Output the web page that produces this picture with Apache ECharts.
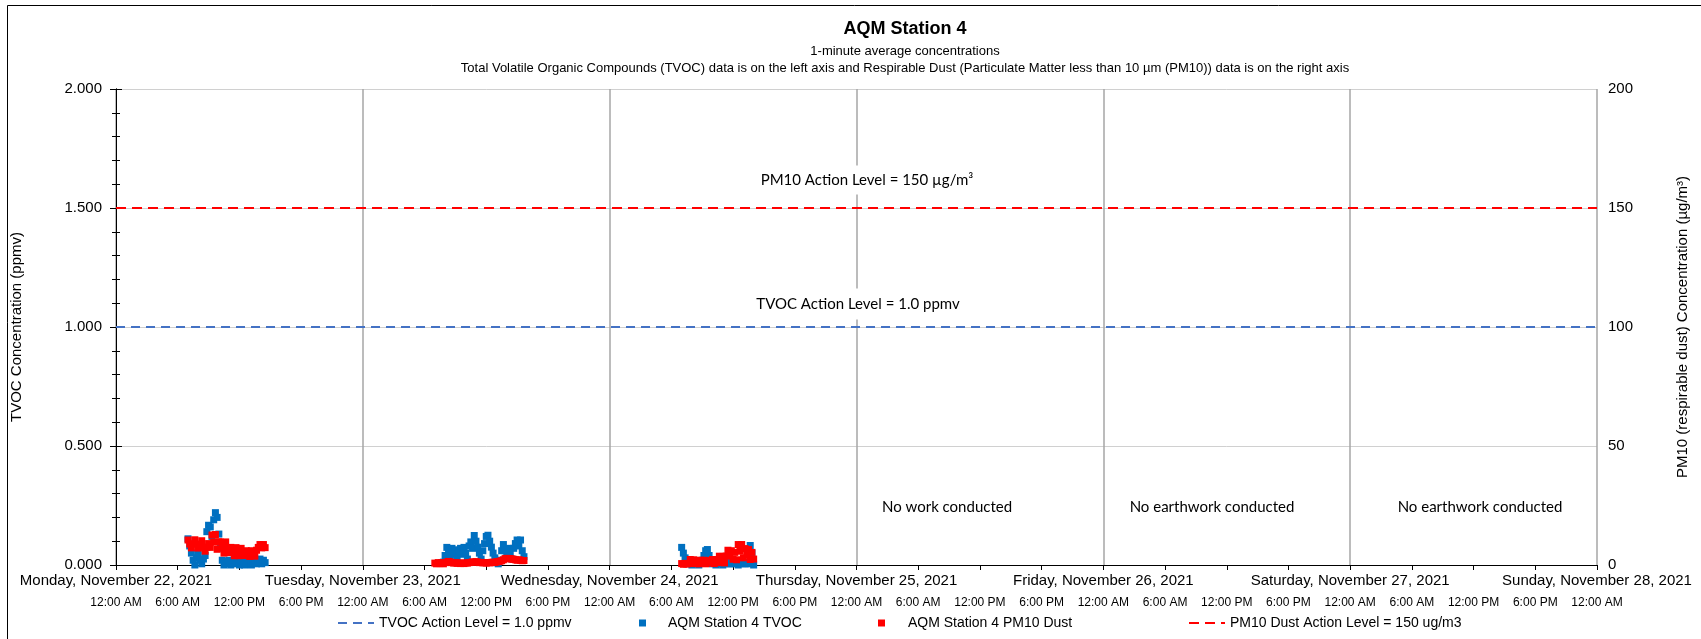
<!DOCTYPE html>
<html>
<head>
<meta charset="utf-8">
<script src="https://cdn.jsdelivr.net/npm/echarts@6/dist/echarts.min.js"></script>
<style>
  html, body { margin: 0; padding: 0; background: #fff; }
  #chart { width: 1701px; height: 639px; }
</style>
</head>
<body>
<div id="chart"></div>
<script>
// x axis runs in hours from Monday 22 Nov 2021, 12:00 AM
const dayLabels = ['Monday, November 22, 2021', 'Tuesday, November 23, 2021', 'Wednesday, November 24, 2021',
  'Thursday, November 25, 2021', 'Friday, November 26, 2021', 'Saturday, November 27, 2021', 'Sunday, November 28, 2021'];
const timeLabels = ['12:00 AM', '6:00 AM', '12:00 PM', '6:00 PM'];
const stepMin = 10; // readings below are every 10 minutes

// TVOC (ppmv)
const tvocMon = [0.11, 0.08, 0.05, 0.02, 0.0, 0.03, 0.045, 0.02, 0.005, 0.025,
  0.04, 0.14, 0.167, 0.16, 0.12, 0.19, 0.22, 0.2, 0.13, 0.07,
  0.02, 0.0, 0.015, 0.005, 0.02, 0.0, 0.01, 0.02, 0.005, 0.015,
  0.0, 0.02, 0.01, 0.0, 0.015, 0.005, 0.02, 0.0, 0.01, 0.02,
  0.005, 0.015, 0.025, 0.005, 0.02, 0.01];
const tvocTue = [0.01, 0.012, 0.04, 0.074, 0.05, 0.025, 0.07, 0.045, 0.064, 0.03,
  0.055, 0.07, 0.045, 0.074, 0.05, 0.025, 0.08, 0.097, 0.07, 0.124,
  0.1, 0.075, 0.05, 0.025, 0.06, 0.09, 0.12, 0.125, 0.1, 0.075,
  0.05, 0.03, 0.01, 0.005, 0.02, 0.06, 0.086, 0.06, 0.035, 0.07,
  0.05, 0.025, 0.07, 0.09, 0.105, 0.08, 0.105, 0.06, 0.035];
const tvocWed = [0.074, 0.05, 0.03, 0.01, 0.005, 0.01, 0.0, 0.01, 0.005, 0.01,
  0.0, 0.01, 0.02, 0.04, 0.06, 0.065, 0.04, 0.01, 0.005, 0.01,
  0.0, 0.01, 0.005, 0.01, 0.0, 0.01, 0.005, 0.01, 0.005, 0.008,
  0.005, 0.008, 0.01, 0.0, 0.01, 0.005, 0.01, 0.005, 0.01, 0.005,
  0.082, 0.05, 0.0];

// PM10 (ug/m3)
const pm10Mon = [10.5, 8.8, 7.2, 8.9, 10.6, 8.8, 7.1, 8.7, 10.2, 7.4,
  5.8, 7.5, 9.0, 7.4, 12.6, 9.6, 12.8, 6.6, 9.8, 9.6,
  7.2, 5.0, 9.7, 7.2, 5.2, 7.4, 5.5, 3.9, 7.3, 5.6,
  3.9, 7.0, 5.4, 4.0, 6.0, 4.8, 3.6, 6.0, 4.8, 3.7,
  6.2, 7.4, 8.6, 7.2, 8.6, 7.3];
const pm10Tue = [0.8, 0.5, 1.0, 0.6, 0.9, 0.5, 1.0, 1.2, 1.5, 1.3,
  1.0, 0.8, 1.0, 0.7, 0.9, 0.6, 0.8, 0.6, 0.9, 0.8,
  1.0, 1.1, 1.3, 1.2, 1.4, 1.2, 1.0, 1.1, 0.9, 1.0,
  0.8, 1.0, 0.9, 1.1, 1.2, 1.0, 1.3, 1.4, 1.6, 1.8,
  2.2, 2.7, 2.8, 2.6, 2.7, 2.5, 2.4, 2.2, 2.0, 2.2,
  2.0, 1.8, 1.9];
const pm10Wed = [0.6, 0.3, 0.7, 0.4, 0.6, 2.3, 0.8, 2.2, 0.6, 1.0,
  0.5, 2.0, 0.7, 2.0, 0.5, 1.9, 0.8, 1.0, 2.3, 0.6,
  2.2, 1.0, 3.7, 1.2, 3.6, 0.9, 3.8, 6.2, 3.8, 6.0,
  2.4, 5.3, 2.2, 8.6, 5.8, 8.6, 3.0, 6.9, 4.2, 6.5,
  2.3, 5.3, 2.5];

const tvocActionLevel = 1.0;
const pm10ActionLevel = 150;

// day index, first reading time, readings
function run(day, hhmm, values) {
  const [h, m] = hhmm.split(':').map(Number);
  const t0 = day * 24 + h + m / 60;
  return values.map((v, i) => [t0 + i * stepMin / 60, v]);
}

const tvocData = [].concat(run(0, '07:00', tvocMon), run(1, '07:40', tvocTue), run(2, '07:00', tvocWed));
const pm10Data = [].concat(run(0, '07:00', pm10Mon), run(1, '07:00', pm10Tue), run(2, '07:00', pm10Wed));

const arial = 'Liberation Sans, Arial, sans-serif';
const calibri = 'Lato, Open Sans, sans-serif';
const legendText = { fontFamily: arial, fontSize: 14, color: '#000' };

const chart = echarts.init(document.getElementById('chart'));
const option = {
  backgroundColor: '#fff',
  animation: false,
  title: {
    text: 'AQM Station 4',
    subtext: '1-minute average concentrations\nTotal Volatile Organic Compounds (TVOC) data is on the left axis and Respirable Dust (Particulate Matter less than 10 µm (PM10)) data is on the right axis',
    left: 900,
    top: 15,
    textAlign: 'center',
    itemGap: 5,
    textStyle: { fontFamily: arial, fontSize: 18, fontWeight: 'bold', color: '#000' },
    subtextStyle: { fontFamily: arial, fontSize: 13, color: '#000', lineHeight: 17 }
  },
  grid: { left: 116, right: 104, top: 89, bottom: 74 },
  legend: [
    { data: ['TVOC Action Level = 1.0 ppmv'], left: 332, top: 611, itemWidth: 36, itemHeight: 14,
      itemStyle: { opacity: 0 }, textStyle: legendText },
    { data: ['AQM Station 4 TVOC'], left: 634, top: 611, itemWidth: 7, itemHeight: 7,
      textStyle: Object.assign({ padding: [0, 0, 0, 17] }, legendText) },
    { data: ['AQM Station 4 PM10 Dust'], left: 873, top: 611, itemWidth: 7, itemHeight: 7,
      textStyle: Object.assign({ padding: [0, 0, 0, 18] }, legendText) },
    { data: ['PM10 Dust Action Level = 150 ug/m3'], left: 1183, top: 611, itemWidth: 36, itemHeight: 14,
      itemStyle: { opacity: 0 }, textStyle: legendText }
  ],
  xAxis: [
    {
      type: 'value', min: 0, max: 144, interval: 6,
      axisLine: { lineStyle: { color: '#000', width: 1 } },
      axisTick: { length: 5, lineStyle: { color: '#000' } },
      axisLabel: {
        margin: 32, fontFamily: arial, fontSize: 12, color: '#000',
        formatter: v => timeLabels[Math.round(v / 6) % 4]
      },
      splitLine: { show: false }
    },
    {
      type: 'value', min: 0, max: 144, interval: 24, position: 'bottom',
      axisLine: { show: false }, axisTick: { show: false },
      axisLabel: {
        margin: 8, fontFamily: arial, fontSize: 15, color: '#000',
        formatter: v => dayLabels[Math.round(v / 24)]
      },
      splitLine: { show: true, lineStyle: { color: '#a6a6a6', width: 1.5 } }
    }
  ],
  yAxis: [
    {
      type: 'value', min: 0, max: 2, interval: 0.5,
      name: 'TVOC Concentration (ppmv)', nameLocation: 'middle', nameGap: 92,
      nameTextStyle: { fontFamily: arial, fontSize: 15, color: '#000' },
      axisLine: { show: true, lineStyle: { color: '#000' } },
      axisTick: { show: true, length: 6, lineStyle: { color: '#000' } },
      minorTick: { show: true, splitNumber: 5, length: 4, lineStyle: { color: '#000' } },
      axisLabel: { margin: 14, fontFamily: arial, fontSize: 15, color: '#000', formatter: v => v.toFixed(3) },
      splitLine: { show: true, lineStyle: { color: '#d0d0d0', width: 1 } }
    },
    {
      type: 'value', min: 0, max: 200, interval: 50, position: 'right',
      name: 'PM10 (respirable dust) Concentration (µg/m³)', nameLocation: 'middle', nameGap: 78,
      nameTextStyle: { fontFamily: arial, fontSize: 15, color: '#000' },
      axisLine: { show: true, lineStyle: { color: '#000' } },
      axisTick: { show: true, length: 6, lineStyle: { color: '#000' } },
      minorTick: { show: true, splitNumber: 5, length: 4, lineStyle: { color: '#000' } },
      axisLabel: { margin: 11, fontFamily: arial, fontSize: 15, color: '#000' },
      splitLine: { show: false }
    }
  ],
  series: [
    {
      name: 'TVOC Action Level = 1.0 ppmv', type: 'line', yAxisIndex: 0, symbol: 'none', z: 3,
      data: [[0, tvocActionLevel], [144, tvocActionLevel]],
      lineStyle: { color: '#4472C4', width: 2, type: [9, 6] }, itemStyle: { color: '#4472C4' }
    },
    {
      name: 'AQM Station 4 TVOC', type: 'scatter', yAxisIndex: 0, z: 4,
      symbol: 'rect', symbolSize: 7, data: tvocData,
      itemStyle: { color: '#0070C0', opacity: 1 }
    },
    {
      name: 'AQM Station 4 PM10 Dust', type: 'scatter', yAxisIndex: 1, z: 5,
      symbol: 'rect', symbolSize: 7, data: pm10Data,
      itemStyle: { color: '#FF0000', opacity: 1 }
    },
    {
      name: 'PM10 Dust Action Level = 150 ug/m3', type: 'line', yAxisIndex: 1, symbol: 'none', z: 3,
      data: [[0, pm10ActionLevel], [144, pm10ActionLevel]],
      lineStyle: { color: '#FF0000', width: 2, type: [10, 6] }, itemStyle: { color: '#FF0000' }
    }
  ],
  graphic: [
    { type: 'rect', silent: true, z: -1, shape: { x: 7.5, y: 5.5, width: 1720, height: 660 },
      style: { fill: null, stroke: '#000', lineWidth: 1 } },
    { type: 'text', x: 867, y: 180, z: 10, style: { text: 'PM10 Action Level = 150 µg/m³', align: 'center', verticalAlign: 'middle',
      font: '15px ' + calibri, fill: '#000', backgroundColor: '#fff', padding: [7, 6] } },
    { type: 'text', x: 858, y: 304, z: 10, style: { text: 'TVOC Action Level = 1.0 ppmv', align: 'center', verticalAlign: 'middle',
      font: '15px ' + calibri, fill: '#000', backgroundColor: '#fff', padding: [8, 6] } },
    { type: 'text', x: 947, y: 507, z: 10, style: { text: 'No work conducted', align: 'center', verticalAlign: 'middle',
      font: '15px ' + calibri, fill: '#000' } },
    { type: 'text', x: 1212, y: 507, z: 10, style: { text: 'No earthwork conducted', align: 'center', verticalAlign: 'middle',
      font: '15px ' + calibri, fill: '#000' } },
    { type: 'text', x: 1480, y: 507, z: 10, style: { text: 'No earthwork conducted', align: 'center', verticalAlign: 'middle',
      font: '15px ' + calibri, fill: '#000' } }
  ]
};
chart.setOption(option);
</script>
</body>
</html>
